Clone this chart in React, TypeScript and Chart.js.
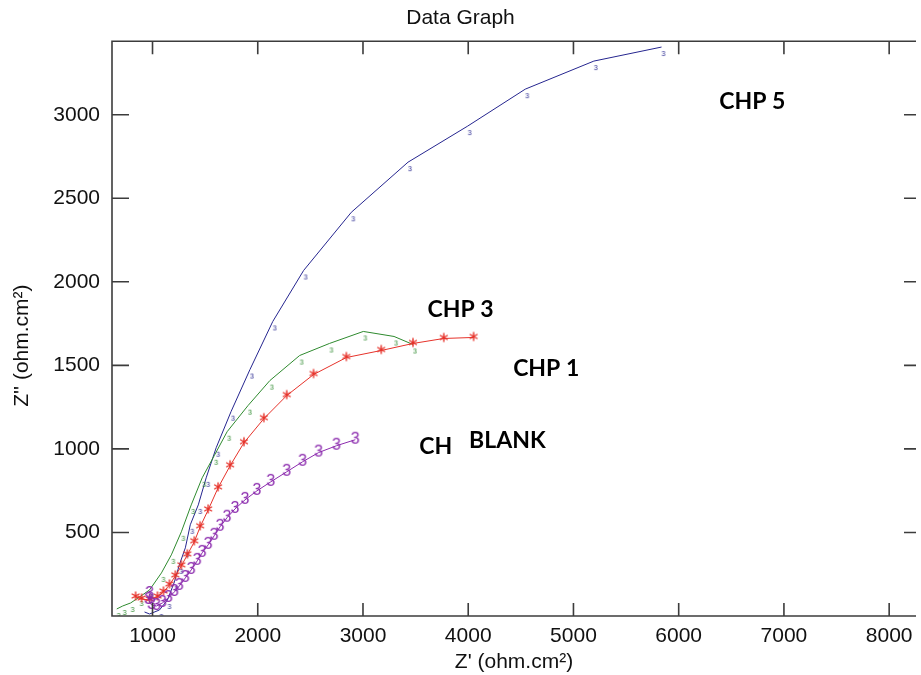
import React, { useEffect, useRef } from "react";
import { Chart, registerables } from "chart.js";

Chart.register(...registerables);

const xTicks = [1000, 2000, 3000, 4000, 5000, 6000, 7000, 8000];
const yTicks = [500, 1000, 1500, 2000, 2500, 3000];

// CHP 5 (blue)
const chp5X = [5837, 5194, 4542, 3995, 3428, 2889, 2436, 2143, 1926, 1746, 1605, 1510, 1435, 1359, 1312, 1255, 1208, 1142, 1066, 972, 924];
const chp5Y = [3405, 3321, 3153, 2932, 2716, 2416, 2068, 1763, 1475, 1223, 1007, 827, 665, 546, 408, 306, 204, 96, 36, 12, 24];

// CHP 3 (green)
const chp3X = [3475, 3295, 3003, 2681, 2398, 2115, 1907, 1709, 1586, 1472, 1368, 1274, 1179, 1085, 972, 877, 792, 717, 660];
const chp3Y = [1625, 1673, 1703, 1631, 1559, 1409, 1259, 1103, 959, 827, 665, 504, 366, 258, 156, 114, 78, 60, 42];

// CHP 1 (red)
const chp1X = [4051, 3768, 3475, 3173, 2842, 2530, 2275, 2058, 1869, 1737, 1623, 1529, 1453, 1397, 1331, 1274, 1217, 1161, 1104, 1047, 972, 896, 839];
const chp1Y = [1667, 1661, 1631, 1589, 1547, 1445, 1319, 1181, 1037, 899, 767, 635, 534, 444, 366, 300, 240, 186, 144, 114, 96, 102, 114];

// CH BLANK (purple)
const blankX = [2927, 2748, 2578, 2426, 2275, 2124, 1992, 1879, 1784, 1708, 1642, 1586, 1529, 1472, 1425, 1368, 1312, 1255, 1208, 1151, 1094, 1038, 991, 962, 972];
const blankY = [1055, 1019, 978, 923, 863, 803, 749, 695, 641, 588, 534, 480, 426, 378, 330, 276, 228, 180, 144, 108, 78, 60, 66, 96, 132];

const noteTexts = ["CHP 5", "CHP 3", "CHP 1", "CH", "BLANK"];
const noteX = [6700, 3928, 4741, 3692, 4372];
const noteY = [3076, 1835, 1481, 1013, 1049];

const BLUE = "#25258f";
const GREEN = "#2e8a2e";
const RED = "#e6322a";
const PURPLE = "#8c2cae";

const FONT = "'Liberation Sans', Arial, sans-serif";

function zip(xs: number[], ys: number[]) {
  return xs.map((x, i) => ({ x, y: ys[i] }));
}

function glyph(text: string, font: string, color: string, size: number, ox: number, oy: number) {
  const c = document.createElement("canvas");
  c.width = size;
  c.height = size;
  const g = c.getContext("2d")!;
  g.font = font;
  g.fillStyle = color;
  g.textAlign = "center";
  g.textBaseline = "middle";
  g.fillText(text, size / 2 + ox, size / 2 + oy);
  return c;
}

function asterisk(color: string) {
  const c = document.createElement("canvas");
  c.width = 16;
  c.height = 16;
  const g = c.getContext("2d")!;
  g.strokeStyle = color;
  g.lineWidth = 1.4;
  const cx = 8, cy = 7, r = 4.5;
  g.beginPath();
  for (let k = 0; k < 3; k++) {
    const a = (Math.PI / 3) * k + Math.PI / 2;
    g.moveTo(cx + r * Math.cos(a), cy + r * Math.sin(a));
    g.lineTo(cx - r * Math.cos(a), cy - r * Math.sin(a));
  }
  g.stroke();
  return c;
}

export default function App() {
  const ref = useRef<HTMLCanvasElement | null>(null);

  useEffect(() => {
    if (!ref.current) return;
    const blueG = glyph("3", "7px 'Liberation Sans'", BLUE, 24, 2, 7);
    const greenG = glyph("3", "7px 'Liberation Sans'", GREEN, 24, 2, 7);
    const purpleG = glyph("3", "16px 'Liberation Sans'", PURPLE, 24, 0, 0);
    const redG = asterisk(RED);

    const framePlugin = {
      id: "frame",
      afterDatasetsDraw(chart: any) {
        const { ctx, chartArea, scales } = chart;
        const { left, right, top, bottom } = chartArea;
        const xs = scales.x, ys = scales.y;
        ctx.save();
        ctx.strokeStyle = "#3c3c3c";
        ctx.lineWidth = 1.6;
        ctx.beginPath();
        ctx.moveTo(right, top);
        ctx.lineTo(left, top);
        ctx.lineTo(left, bottom);
        ctx.lineTo(right, bottom);
        xTicks.forEach((v) => {
          const px = xs.getPixelForValue(v);
          ctx.moveTo(px, bottom);
          ctx.lineTo(px, bottom - 13);
          ctx.moveTo(px, top);
          ctx.lineTo(px, top + 13);
        });
        yTicks.forEach((v) => {
          const py = ys.getPixelForValue(v);
          ctx.moveTo(left, py);
          ctx.lineTo(left + 17, py);
          ctx.moveTo(right, py);
          ctx.lineTo(right - 12, py);
        });
        ctx.stroke();

        ctx.fillStyle = "#000";
        ctx.font = "bold 23px Lato";
        ctx.textAlign = "center";
        ctx.textBaseline = "middle";
        noteTexts.forEach((t, i) => {
          ctx.fillText(t, xs.getPixelForValue(noteX[i]), ys.getPixelForValue(noteY[i]));
        });

        // y axis title
        ctx.save();
        ctx.translate(22, (top + bottom) / 2 + 17);
        ctx.rotate(-Math.PI / 2);
        ctx.fillStyle = "#111";
        ctx.font = "21px " + FONT;
        ctx.fillText("Z'' (ohm.cm²)", 0, 0);
        ctx.restore();
        ctx.restore();
      },
    };

    const tickFont = { family: FONT, size: 21 };

    const chart = new Chart(ref.current, {
      type: "scatter",
      data: {
        datasets: [
          {
            label: "CH BLANK",
            data: zip(blankX, blankY),
            showLine: true,
            borderColor: PURPLE,
            borderWidth: 1,
            pointStyle: purpleG as any,
            pointRadius: 3,
            order: 0,
          },
          {
            label: "CHP 1",
            data: zip(chp1X, chp1Y),
            showLine: true,
            borderColor: RED,
            borderWidth: 1,
            pointStyle: redG as any,
            pointRadius: 3,
            order: 1,
          },
          {
            label: "CHP 3",
            data: zip(chp3X, chp3Y),
            showLine: true,
            borderColor: GREEN,
            borderWidth: 1,
            pointStyle: greenG as any,
            pointRadius: 3,
            order: 2,
          },
          {
            label: "CHP 5",
            data: zip(chp5X, chp5Y),
            showLine: true,
            borderColor: BLUE,
            borderWidth: 1,
            pointStyle: blueG as any,
            pointRadius: 3,
            order: 3,
          },
        ],
      },
      options: {
        animation: false,
        responsive: false,
        layout: { padding: { top: 0, right: 0, bottom: 0, left: 0 } },
        plugins: {
          legend: { display: false },
          tooltip: { enabled: false },
          title: {
            display: true,
            text: "Data Graph",
            color: "#111",
            font: { family: FONT, size: 21, weight: "normal" },
            padding: { top: 6, bottom: 10 },
          },
        },
        scales: {
          x: {
            type: "linear",
            min: 615,
            max: 8255,
            grid: { display: false, drawTicks: false },
            border: { display: false },
            afterBuildTicks: (s: any) => {
              s.ticks = xTicks.map((v) => ({ value: v }));
            },
            afterFit: (s: any) => {
              s.height = 59;
              s.paddingLeft = 0;
              s.paddingRight = 0;
            },
            ticks: {
              color: "#111",
              font: tickFont,
              padding: 8,
              maxRotation: 0,
              autoSkip: false,
              callback: (v: any) => String(v),
            },
            title: {
              display: true,
              text: "Z' (ohm.cm²)",
              color: "#111",
              font: tickFont,
              padding: { top: 0, bottom: 0 },
            },
          },
          y: {
            type: "linear",
            min: 0,
            max: 3440,
            grid: { display: false, drawTicks: false },
            border: { display: false },
            afterBuildTicks: (s: any) => {
              s.ticks = yTicks.map((v) => ({ value: v }));
            },
            afterFit: (s: any) => {
              s.width = 112;
              s.paddingTop = 0;
              s.paddingBottom = 0;
            },
            ticks: {
              color: "#111",
              font: tickFont,
              padding: 12,
              autoSkip: false,
              callback: (v: any) => String(v),
            },
          },
        },
      } as any,
      plugins: [framePlugin],
    });
    return () => chart.destroy();
  }, []);

  return (
    <div style={{ position: "fixed", left: 0, top: 0, width: 921, height: 675, background: "#fff" }}>
      <canvas ref={ref} width={921} height={675} />
    </div>
  );
}
